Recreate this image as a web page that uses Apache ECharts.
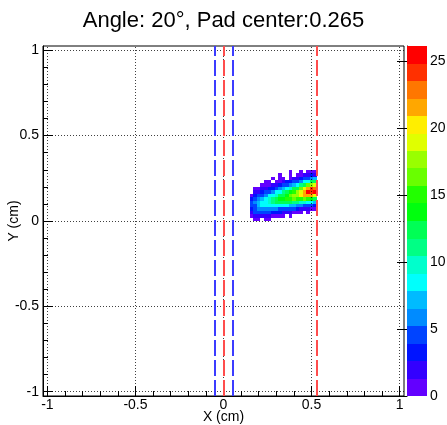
<!DOCTYPE html>
<html><head><meta charset="utf-8">
<script src="https://cdn.jsdelivr.net/npm/echarts@6/dist/echarts.min.js"></script>
<style>html,body{margin:0;padding:0;background:#fff}#c{width:447px;height:425px}</style>
</head><body><div id="c"></div>
<script>
const titleText = 'Angle: 20°, Pad center:0.265';
const xAxisName = 'X (cm)';
const yAxisName = 'Y (cm)';
// bin centres (cm)
const xCenters = [0.16,0.18,0.20,0.22,0.24,0.26,0.28,0.30,0.32,0.34,0.36,0.38,0.40,0.42,0.44,0.46,0.48,0.50,0.52];
const yCenters = [0.29,0.27,0.25,0.23,0.21,0.19,0.17,0.15,0.13,0.11,0.09,0.07,0.05,0.03,0.01];
// counts, one row per yCenters entry, one column per xCenters entry
const counts = [
  [0,0,0,0,0,0,0,0,0,0,0,1,0,0,1,0,1,1,1],
  [0,0,0,0,0,0,0,0,1,0,0,1,0,1,1,2,2,3,2],
  [0,0,0,0,0,0,1,0,1,1,0,1,2,2,3,4,5,6,7],
  [0,0,0,0,1,1,0,1,1,2,3,3,4,5,6,8,9,12,13],
  [0,0,0,1,1,1,2,2,3,4,5,6,7,9,11,13,16,18,19],
  [0,1,1,2,2,3,3,4,6,7,8,10,12,13,16,19,22,24,23],
  [0,2,2,3,4,5,6,8,9,11,12,14,15,17,19,22,25,24,26],
  [1,3,4,5,6,8,9,10,12,13,14,16,17,18,20,21,21,22,19],
  [3,4,6,7,8,10,11,12,14,14,15,15,16,15,15,16,15,14,13],
  [4,6,7,8,9,10,11,12,12,13,12,12,11,11,10,10,9,8,7],
  [4,5,7,8,8,9,9,9,9,8,8,7,7,6,6,5,4,4,3],
  [3,5,6,6,6,6,6,6,5,5,4,4,4,3,2,2,2,1,1],
  [2,4,4,4,4,4,3,3,3,2,2,2,1,1,1,0,1,0,0],
  [1,2,2,2,2,2,1,1,1,1,0,1,0,0,0,0,0,0,0],
  [0,1,1,0,1,1,0,0,0,0,0,0,0,0,0,0,0,0,0]
];
const binW = 0.02, binH = 0.02;
const axisRange = [-1.025, 1.025];
const majorTicks = [-1,-0.5,0,0.5,1];
const minorTicks = [-1,-0.9,-0.8,-0.7,-0.6,-0.5,-0.4,-0.3,-0.2,-0.1,0,0.1,0.2,0.3,0.4,0.5,0.6,0.7,0.8,0.9,1];
const gridValues = [-1,-0.5,0,0.5,1];
const blueLines = [-0.05, 0.05];
const redLines = [0, 0.53];
const zTicks = [0,5,10,15,20,25];
const zMax = 26.1;
const nLevels = 20;

// ROOT "pretty" palette (violet -> red), 50 colours, picked for 20 contours
function hsl2rgb(h, s, l) {
  const c = (1 - Math.abs(2*l - 1)) * s;
  const hp = h / 60, x = c * (1 - Math.abs(hp % 2 - 1));
  let r=0,g=0,b=0;
  if (hp < 1) {r=c;g=x;} else if (hp < 2) {r=x;g=c;} else if (hp < 3) {g=c;b=x;}
  else if (hp < 4) {g=x;b=c;} else if (hp < 5) {r=x;b=c;} else {r=c;b=x;}
  const m = l - c/2;
  const f = v => Math.round((v+m)*255);
  return 'rgb(' + f(r) + ',' + f(g) + ',' + f(b) + ')';
}
const palette = [];
for (let k = 0; k < nLevels; k++) {
  const idx = Math.floor((k + 0.99) * 50 / nLevels);
  palette.push(hsl2rgb(280 - (idx + 1) * 5.6, 1, 0.5));
}
const dz = zMax / nLevels;
function levelOf(v) { return Math.min(nLevels - 1, Math.floor(v / dz)); }

const cells = [];
yCenters.forEach((y, r) => xCenters.forEach((x, c) => {
  const v = counts[r][c];
  if (v > 0) cells.push([x, y, v]);
}));
const bands = palette.map((_, k) => [k]);

const font = 'Liberation Sans, Arial, Helvetica, sans-serif';
const dotted = {color: '#000', width: 1, type: [1, 2], opacity: 0.75};

const chart = echarts.init(document.getElementById('c'), null, {renderer: 'canvas'});
chart.setOption({
  animation: false,
  backgroundColor: '#fff',
  title: {text: titleText, left: 'center', top: 5,
    textStyle: {fontFamily: font, fontSize: 22, fontWeight: 'normal', color: '#000'}},
  grid: [
    {left: 43, top: 46, width: 361, height: 350, show: true, borderColor: '#000', borderWidth: 1,
      backgroundColor: 'transparent', containLabel: false, outerBoundsMode: 'none'},
    {left: 407, top: 46, width: 20, height: 350, containLabel: false, outerBoundsMode: 'none'}
  ],
  xAxis: [
    {type: 'value', gridIndex: 0, min: axisRange[0], max: axisRange[1], position: 'bottom',
      name: xAxisName, nameLocation: 'middle', nameGap: 14, nameMoveOverlap: false,
      nameTextStyle: {fontFamily: font, fontSize: 14, color: '#000'},
      axisLine: {show: true, onZero: false, lineStyle: {color: '#000'}},
      axisTick: {show: true, inside: true, length: 10, customValues: majorTicks, lineStyle: {color: '#000'}},
      axisLabel: {show: true, customValues: majorTicks, margin: 2, fontFamily: font, fontSize: 14, color: '#000'},
      splitLine: {show: false}},
    {type: 'value', gridIndex: 0, min: axisRange[0], max: axisRange[1], position: 'bottom',
      axisLine: {show: false, onZero: false},
      axisTick: {show: true, inside: true, length: 5, customValues: minorTicks, lineStyle: {color: '#000'}},
      axisLabel: {show: false}, splitLine: {show: false}},
    {type: 'value', gridIndex: 1, min: 0, max: 1, show: false}
  ],
  yAxis: [
    {type: 'value', gridIndex: 0, min: axisRange[0], max: axisRange[1], position: 'left',
      name: yAxisName, nameLocation: 'middle', nameGap: 22, nameRotate: 90, nameMoveOverlap: false,
      nameTextStyle: {fontFamily: font, fontSize: 14, color: '#000'},
      axisLine: {show: true, onZero: false, lineStyle: {color: '#000'}},
      axisTick: {show: true, inside: true, length: 10, customValues: majorTicks, lineStyle: {color: '#000'}},
      axisLabel: {show: true, customValues: majorTicks, margin: 4, fontFamily: font, fontSize: 14, color: '#000'},
      splitLine: {show: false}},
    {type: 'value', gridIndex: 0, min: axisRange[0], max: axisRange[1], position: 'left',
      axisLine: {show: false, onZero: false},
      axisTick: {show: true, inside: true, length: 5, customValues: minorTicks, lineStyle: {color: '#000'}},
      axisLabel: {show: false}, splitLine: {show: false}},
    {type: 'value', gridIndex: 1, min: 0, max: zMax, position: 'right',
      axisLine: {show: true, lineStyle: {color: '#000'}},
      axisTick: {show: true, inside: true, length: 10, customValues: zTicks, lineStyle: {color: '#000'}},
      axisLabel: {show: true, customValues: zTicks, margin: 3, fontFamily: font, fontSize: 14, color: '#000'},
      splitLine: {show: false}}
  ],
  series: [
    {type: 'custom', xAxisIndex: 0, yAxisIndex: 0, data: cells, clip: true, z: 2,
      renderItem: function (params, api) {
        const x = api.value(0), y = api.value(1), v = api.value(2);
        const p0 = api.coord([x - binW/2, y + binH/2]);
        const p1 = api.coord([x + binW/2, y - binH/2]);
        const x0 = Math.round(p0[0]), y0 = Math.round(p0[1]);
        const x1 = Math.round(p1[0]), y1 = Math.round(p1[1]);
        return {type: 'rect', shape: {x: x0, y: y0, width: x1 - x0, height: y1 - y0},
          style: {fill: palette[levelOf(v)]}};
      }},
    {type: 'line', xAxisIndex: 0, yAxisIndex: 0, data: [], z: 5, silent: true,
      markLine: {silent: true, symbol: 'none', label: {show: false}, animation: false,
        data: [].concat(
          gridValues.map(v => ({xAxis: v, lineStyle: dotted})),
          gridValues.map(v => ({yAxis: v, lineStyle: dotted})),
          blueLines.map(v => ({xAxis: v, lineStyle: {color: '#3c3cff', width: 2, type: [16, 4]}})),
          redLines.map(v => ({xAxis: v, lineStyle: {color: '#ff4d4d', width: 2, type: [16, 4]}}))
        )}},
    {type: 'custom', xAxisIndex: 2, yAxisIndex: 2, data: bands, z: 2,
      renderItem: function (params, api) {
        const k = api.value(0);
        const p0 = api.coord([0, (k + 1) * dz]);
        const p1 = api.coord([1, k * dz]);
        const y0 = Math.round(p0[1]), y1 = Math.round(p1[1]);
        return {type: 'rect', shape: {x: p0[0], y: y0, width: p1[0] - p0[0], height: y1 - y0},
          style: {fill: palette[k]}};
      }}
  ]
});
</script></body></html>
